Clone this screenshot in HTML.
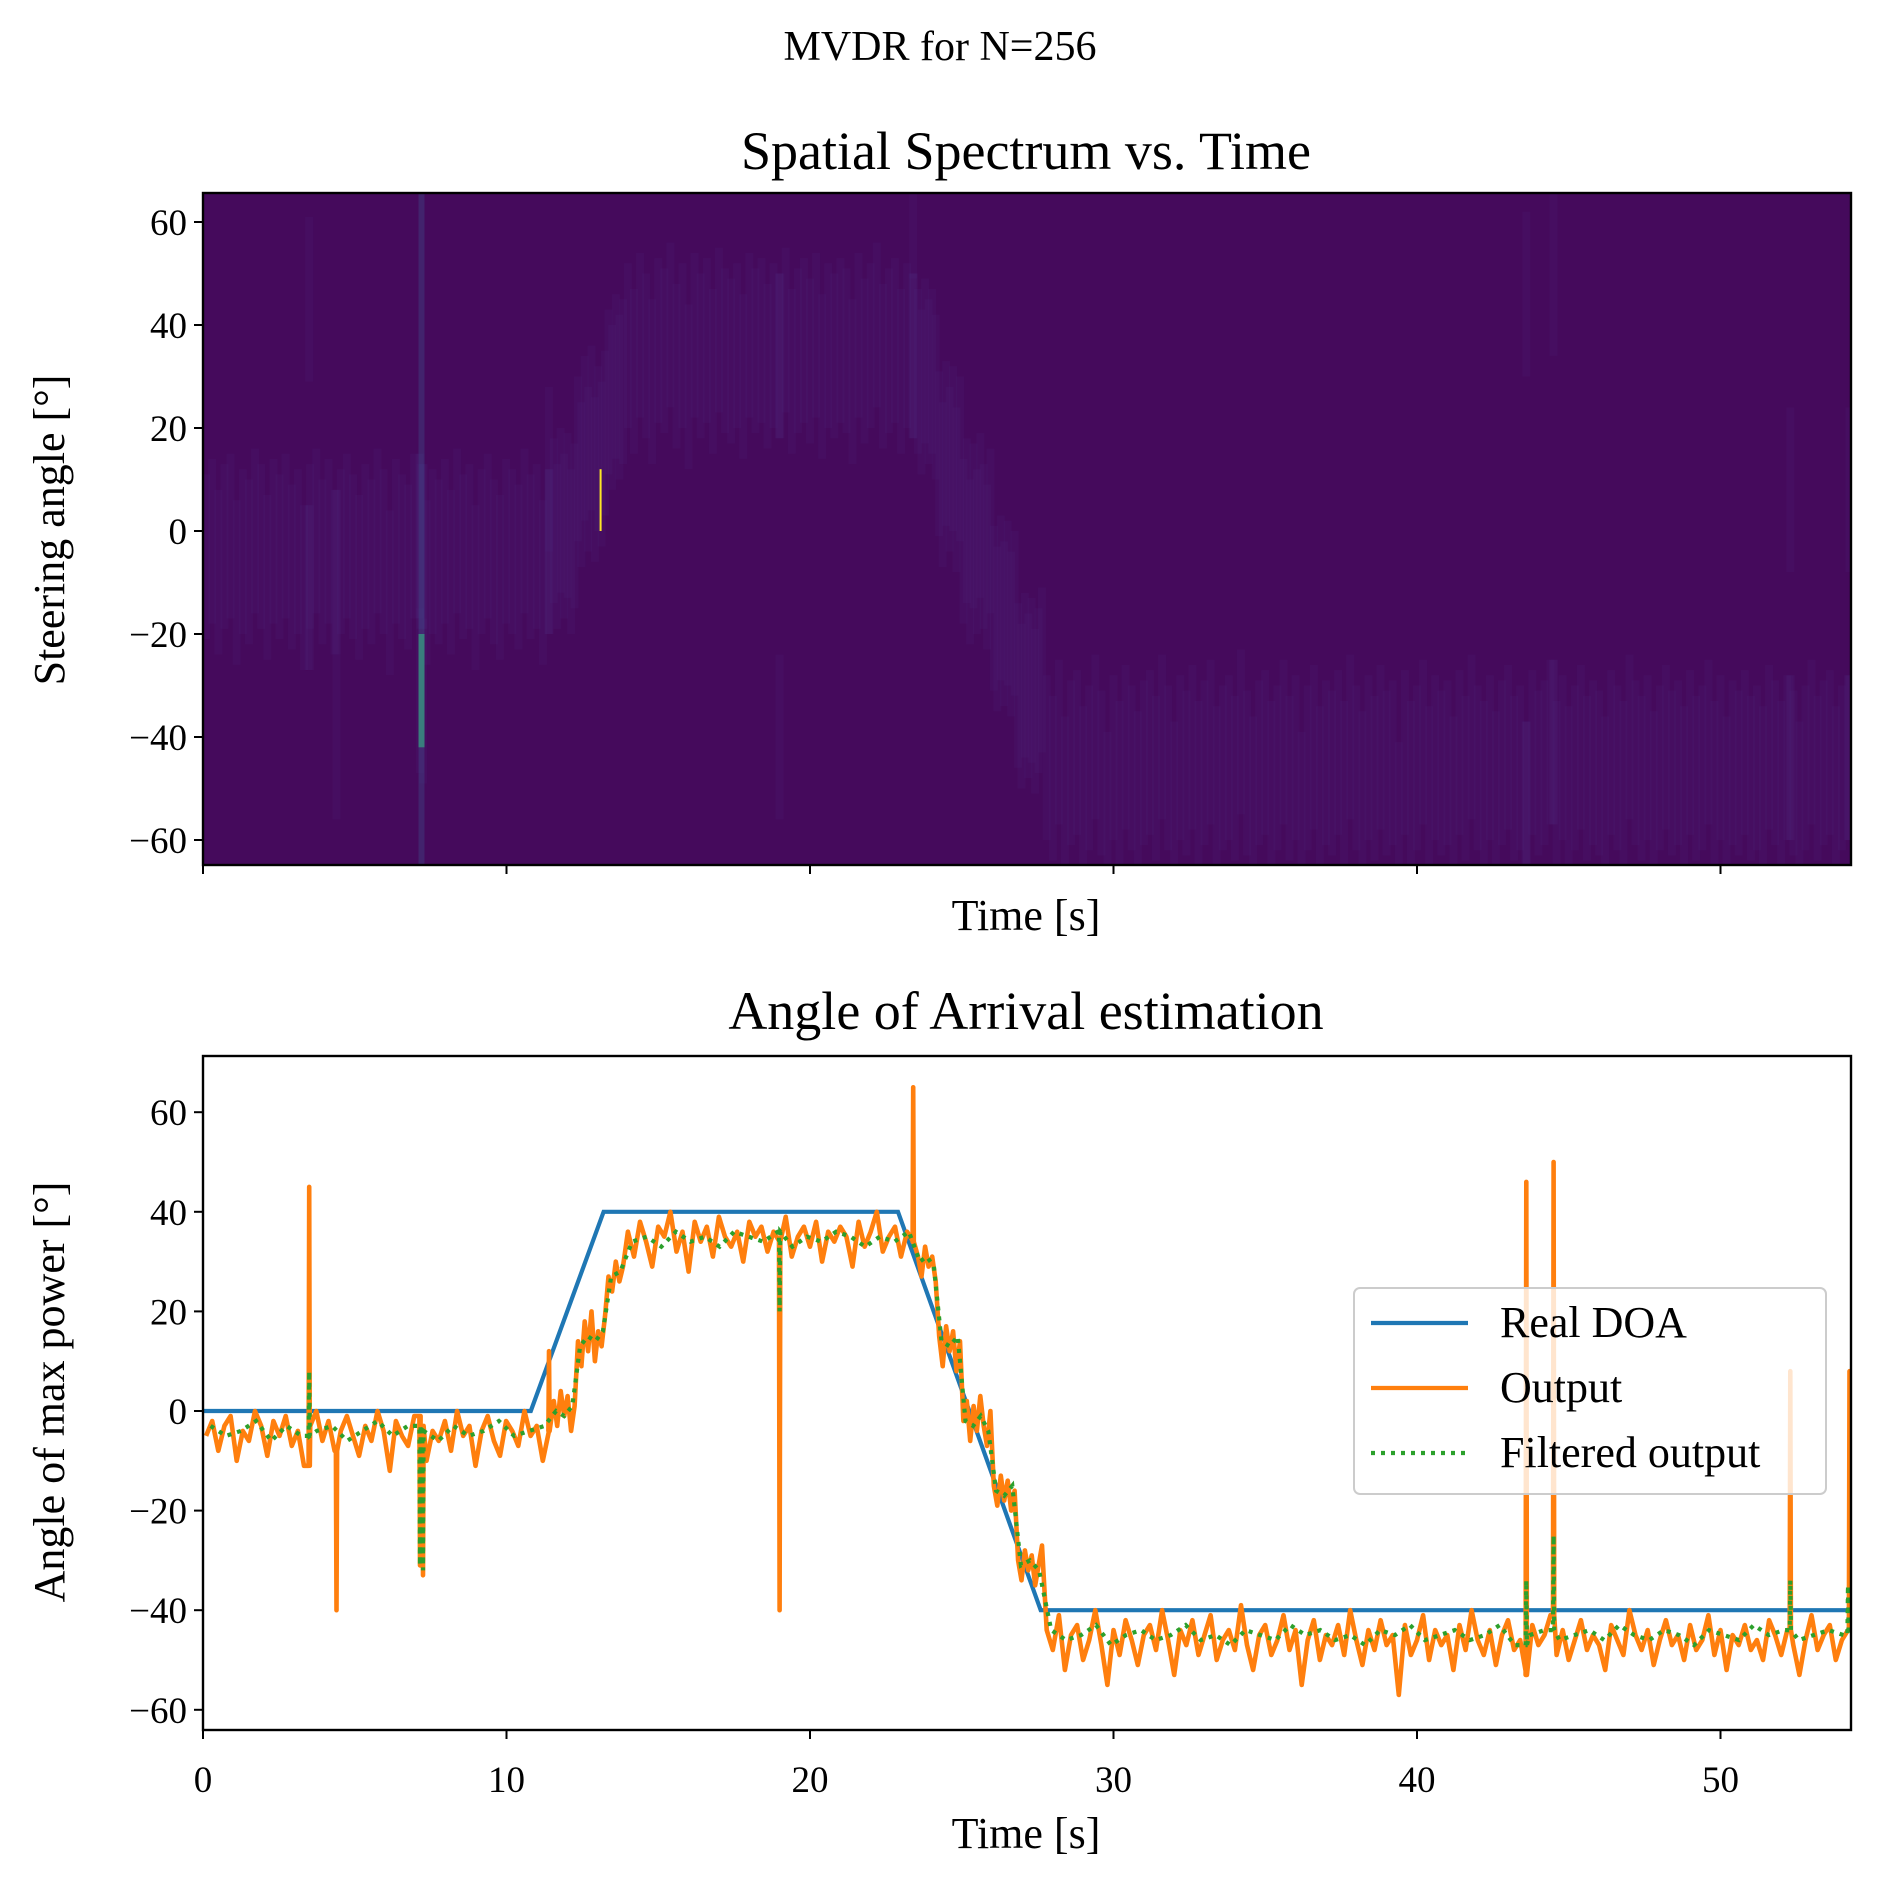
<!DOCTYPE html>
<html><head><meta charset="utf-8">
<style>
html,body{margin:0;padding:0;background:#fff;}
svg text{font-family:"Liberation Serif","DejaVu Serif",serif;fill:#000;}
</style></head>
<body>
<svg id="fig" width="1880" height="1892" viewBox="0 0 1880 1892" xmlns="http://www.w3.org/2000/svg">
<rect width="1880" height="1892" fill="#fff"/>
<defs>
<clipPath id="c1"><rect x="203" y="193" width="1648" height="672"/></clipPath>
<clipPath id="c2"><rect x="203" y="1056" width="1648" height="674"/></clipPath>
</defs>
<text x="940" y="60" font-size="42" text-anchor="middle">MVDR for N=256</text>
<text x="1026" y="169" font-size="54" text-anchor="middle">Spatial Spectrum vs. Time</text>
<text x="1026" y="1029" font-size="54" text-anchor="middle">Angle of Arrival estimation</text>
<g id="topPlot"></g>
<g id="botPlot"></g>
</svg>
<script>
// ---- data ----
const segTimes = [[0,11.5],[11.5,12.3],[12.3,13.3],[13.3,13.9],[13.9,23.5],[23.5,24.2],[24.2,25.0],[25.0,26.0],[26.0,26.8],[26.8,27.7],[27.7,54.3]];
const outputSegs = [
[-5,-2,-8,-3,-1,-10,-4,-6,0,-3,-9,-2,-5,-1,-7,-4,-11,-3,0,-6,-2,-8,-4,-1,-5,-9,-3,-6,0,-4,-12,-2,-5,-7,-1,-3,-10,-4,-6,-2,-8,0,-5,-3,-11,-4,-1,-6,-9,-2,-4,-7,0,-5,-3,-10,-4],
[2,-3,4,-1,3,-4,1],
[14,9,18,12,20,10,16,13,19],
[27,24,30,26,29],
[36,31,38,34,29,37,35,40,32,36,28,38,34,37,31,39,35,33,36,30,38,35,37,32,36,34,39,31,35,37,33,38,30,36,34,37,35,29,38,33,36,40,32,35,37,31,36,34],
[31,27,33,29,31,26],
[15,9,17,12,16,8,14],
[-2,2,-6,1,-4,3,-3,-7,0],
[-15,-19,-13,-18,-14,-20,-16],
[-30,-34,-28,-32,-29,-35,-31,-27],
[-44,-48,-41,-52,-45,-43,-50,-46,-40,-47,-55,-44,-49,-42,-46,-51,-45,-43,-48,-40,-46,-53,-44,-47,-42,-49,-45,-41,-50,-46,-44,-48,-39,-47,-52,-45,-43,-49,-46,-41,-48,-44,-55,-46,-42,-50,-45,-47,-43,-49,-40,-46,-51,-44,-48,-42,-47,-45,-57,-43,-49,-46,-41,-50,-44,-47,-45,-52,-43,-48,-40,-46,-49,-44,-51,-45,-42,-48,-46,-53,-43,-47,-45,-41,-49,-44,-50,-46,-42,-48,-45,-47,-52,-43,-46,-49,-40,-45,-48,-44,-51,-46,-42,-47,-45,-50,-43,-48,-46,-41,-49,-44,-52,-45,-47,-43,-48,-46,-50,-42,-45,-49,-44,-47,-53,-46,-41,-48,-45,-43,-50,-46,-44]
];
const outputSpikes = [[3.5,45],[4.4,-40],[7.15,-31],[7.25,-33],[11.4,12],[19.0,-40],[23.4,65],[43.6,46],[44.5,50],[52.3,8],[54.25,8]];
const filteredSegs = [
[-3,-5,-4,-2,-6,-3,-5,-4,-3,-6,-4,-2,-5,-3,-4,-6,-3,-5,-4,-2,-5,-4,-3],
[0,-1,1],[13,15,14,16],[27,28],
[34,35,33,36,34,35,33,36,35,34,36,33,35,34,36,35,33,35,34,36],
[30,31,29],[14,13,15],[-2,-3,-1,-4],[-16,-17,-15],[-31,-30,-32],
[-44,-46,-45,-43,-47,-45,-44,-46,-45,-43,-46,-45,-47,-44,-45,-46,-43,-45,-44,-46,-45,-47,-44,-45,-43,-46,-45,-44,-46,-45,-43,-47,-45,-44,-46,-45,-44,-46,-43,-45,-46,-44,-45,-47,-44,-45,-46,-43,-45,-44,-46,-45,-44,-45]
];
const filteredSpikes = [[3.5,8],[7.15,-31],[7.25,-32],[19.0,20],[43.6,-34],[44.5,-25],[52.3,-34],[54.2,-35]];
const realT = [0,10.8,13.2,22.9,27.6,54.3];
const realV = [0,0,40,40,-40,-40];
const xTicks = [0,10,20,30,40,50];
const yTicksTop = [60,40,20,0,-20,-40,-60];
const yTicksBot = [60,40,20,0,-20,-40,-60];

// ---- axes ----
const L=203,R=1851, T1=193,B1=865, T2=1056,B2=1730;
const X=t=>L+t*(R-L)/54.3;
const Y1=v=>531-v*5.15;
const Y2=v=>1411-v*4.98;
const NS='http://www.w3.org/2000/svg';
function mk(tag,attrs,parent){const e=document.createElementNS(NS,tag);for(const k in attrs)e.setAttribute(k,attrs[k]);parent.appendChild(e);return e;}
function fmt(v){return v<0?'\u2212'+(-v):''+v;}
function buildSeries(segs,spikes){
  let pts=[];
  segs.forEach((vals,i)=>{const a=segTimes[i][0],b=segTimes[i][1];const n=vals.length;vals.forEach((v,j)=>pts.push([a+(b-a)*(j+0.5)/n,v]));});
  spikes.forEach(s=>{let k=pts.findIndex(p=>p[0]>s[0]);if(k<0)k=pts.length;const base=pts[Math.max(0,k-1)][1];pts.splice(k,0,[s[0]-0.02,base],[s[0],s[1]],[s[0]+0.02,base]);});
  return pts;
}
const outPts=buildSeries(outputSegs,outputSpikes);
const filtPts=buildSeries(filteredSegs,filteredSpikes);

// ---- top heatmap ----
const topG=document.getElementById('topPlot');
const bg=mk('rect',{x:L,y:T1,width:R-L,height:B1-T1,fill:'#450a5c'},topG);


const hm=mk('g',{'clip-path':'url(#c1)'},topG);
outPts.forEach(p=>{
  const c=mk('rect',{x:X(p[0])-4,y:Y1(p[1]+16),width:8,height:32*5.15,fill:'#4d2a7c','fill-opacity':0.14},hm);
  
  
});
const streak=mk('rect',{x:X(7.2)-3,y:Y1(-20),width:6,height:22*5.15,fill:'#35b779','fill-opacity':0.8},hm);


const streakCol=mk('rect',{x:X(7.2)-3,y:T1,width:6,height:B1-T1,fill:'#3b528b','fill-opacity':0.35},hm);


const ys=mk('rect',{x:X(13.1)-1,y:Y1(12),width:2,height:12*5.15,fill:'#fde725'},hm);


const f1=mk('rect',{x:L,y:T1,width:R-L,height:B1-T1,fill:'none',stroke:'#000','stroke-width':2.4},topG);


yTicksTop.forEach(v=>{mk('line',{x1:L-9,x2:L,y1:Y1(v),y2:Y1(v),stroke:'#000','stroke-width':2},topG);
  const t=mk('text',{x:L-16,y:Y1(v)+13,'font-size':37,'text-anchor':'end'},topG);t.textContent=fmt(v);
  
  });
xTicks.forEach(v=>mk('line',{x1:X(v),x2:X(v),y1:B1,y2:B1+9,stroke:'#000','stroke-width':2},topG));
let t1=mk('text',{x:1026,y:930,'font-size':44,'text-anchor':'middle'},topG);t1.textContent='Time [s]';


let t2=mk('text',{x:0,y:0,'font-size':44,'text-anchor':'middle',transform:'translate(64,530) rotate(-90)'},topG);t2.textContent='Steering angle [°]';



// ---- bottom line chart ----
const botG=document.getElementById('botPlot');
const g=mk('g',{'clip-path':'url(#c2)'},botG);
const path=pts=>pts.map((p,i)=>(i?'L':'M')+X(p[0]).toFixed(1)+' '+Y2(p[1]).toFixed(1)).join(' ');
const real=mk('path',{d:path(realT.map((t,i)=>[t,realV[i]])),fill:'none',stroke:'#1f77b4','stroke-width':4.2},g);


const out=mk('path',{d:path(outPts),fill:'none',stroke:'#ff7f0e','stroke-width':4.6,'stroke-linejoin':'round'},g);


const fl=mk('path',{d:path(filtPts),fill:'none',stroke:'#2ca02c','stroke-width':4.2,'stroke-dasharray':'4 6'},g);


const f2=mk('rect',{x:L,y:T2,width:R-L,height:B2-T2,fill:'none',stroke:'#000','stroke-width':2.4},botG);


yTicksBot.forEach(v=>{mk('line',{x1:L-9,x2:L,y1:Y2(v),y2:Y2(v),stroke:'#000','stroke-width':2},botG);
  const t=mk('text',{x:L-16,y:Y2(v)+13,'font-size':37,'text-anchor':'end'},botG);t.textContent=fmt(v);
  
  });
xTicks.forEach(v=>{mk('line',{x1:X(v),x2:X(v),y1:B2,y2:B2+9,stroke:'#000','stroke-width':2},botG);
  const t=mk('text',{x:X(v),y:1792,'font-size':37,'text-anchor':'middle'},botG);t.textContent=fmt(v);
  
  });
let t3=mk('text',{x:1026,y:1848,'font-size':44,'text-anchor':'middle'},botG);t3.textContent='Time [s]';


let t4=mk('text',{x:0,y:0,'font-size':44,'text-anchor':'middle',transform:'translate(64,1392) rotate(-90)'},botG);t4.textContent='Angle of max power [°]';



// legend
const lg=mk('g',{},botG);


mk('rect',{x:1354,y:1288,width:472,height:206,rx:6,fill:'#fff','fill-opacity':0.8,stroke:'#ccc','stroke-width':2},lg);
const items=[['Real DOA','#1f77b4',''],['Output','#ff7f0e',''],['Filtered output','#2ca02c','4 6']];
items.forEach((it,i)=>{const y=1323+i*65;
  const ln=mk('line',{x1:1371,x2:1468,y1:y,y2:y,stroke:it[1],'stroke-width':4.2,'stroke-dasharray':it[2]||'none'},lg);
  
  
  const tx=mk('text',{x:1500,y:y+14,'font-size':44},lg);tx.textContent=it[0];
  
  });
</script>
</body></html>
